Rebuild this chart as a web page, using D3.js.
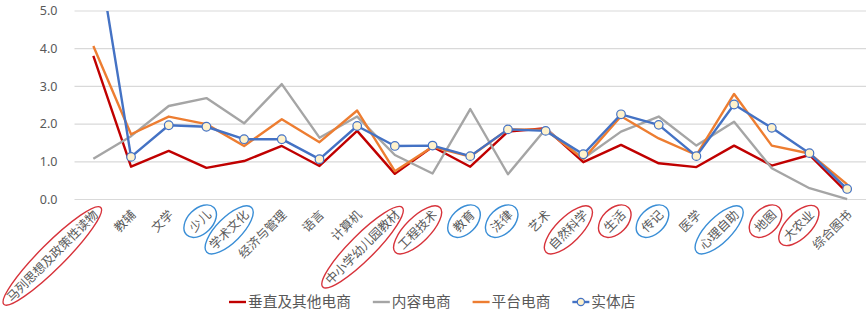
<!DOCTYPE html>
<html><head><meta charset="utf-8">
<script src="https://cdn.jsdelivr.net/npm/d3@7/dist/d3.min.js"></script>
<style>
html,body{margin:0;padding:0;background:#fff;}
svg{display:block;}
text{font-family:"Noto Sans CJK SC","Noto Sans",sans-serif;fill:#595959;}
</style></head>
<body>
<svg id="chart" width="866" height="320"></svg>
<script>
const categories = ["马列思想及政策性读物","教辅","文学","少儿","学术文化","经济与管理","语言","计算机","中小学幼儿园教材","工程技术","教育","法律","艺术","自然科学","生活","传记","医学","心理自助","地图","大农业","综合图书"];
const seriesNames = ["垂直及其他电商","内容电商","平台电商","实体店"];
const verticalEcom = [3.81,0.87,1.29,0.84,1.02,1.42,0.89,1.82,0.68,1.40,0.87,1.80,1.89,0.99,1.45,0.96,0.86,1.43,0.90,1.18,0.18];
const contentEcom  = [1.08,1.68,2.48,2.69,2.02,3.06,1.64,2.20,1.18,0.69,2.40,0.67,1.87,1.09,1.80,2.20,1.43,2.06,0.83,0.30,0.01];
const platformEcom = [4.07,1.73,2.20,2.00,1.42,2.13,1.52,2.36,0.75,1.40,1.14,1.86,1.85,1.07,2.21,1.62,1.18,2.80,1.43,1.22,0.40];
const physicalStore = [7.3,1.13,1.97,1.93,1.60,1.60,1.07,1.95,1.42,1.43,1.15,1.86,1.82,1.20,2.26,1.98,1.15,2.52,1.90,1.23,0.28];
const yTicks = [0,1,2,3,4,5];
const redCircled = ["马列思想及政策性读物","中小学幼儿园教材","工程技术","自然科学","生活","地图","大农业"];
const blueCircled = ["少儿","学术文化","教育","法律","传记","心理自助"];

const colors = ["#C00000","#A5A5A5","#ED7D31","#4472C4"];
const seriesValues = [verticalEcom, contentEcom, platformEcom, physicalStore];

const svg = d3.select("#chart");
const pLeft = 74.5, pRight = 866, pTop = 11, pBottom = 199.5;

const x = d3.scalePoint().domain(categories).range([pLeft, pRight]).padding(0.5);
const y = d3.scaleLinear().domain([0,5]).range([pBottom, pTop]);

// gridlines
svg.append("g").selectAll("line").data(yTicks).join("line")
  .attr("x1", pLeft).attr("x2", pRight)
  .attr("y1", d => y(d)).attr("y2", d => y(d))
  .attr("stroke", "#D9D9D9").attr("stroke-width", 1.2);

// y labels
svg.append("g").selectAll("text").data(yTicks).join("text")
  .attr("x", 57.5).attr("y", d => y(d)).attr("dy", "0.35em")
  .attr("text-anchor", "end")
  .style("font-family", "'Noto Sans',sans-serif")
  .style("font-size", "12.5px")
  .text(d => d3.format(".1f")(d));

// x labels with annotation ellipses
const labG = svg.append("g").selectAll("g").data(categories).join("g")
  .attr("transform", d => `translate(${x(d)+5.5},215.5) rotate(-45)`);
labG.append("text")
  .attr("text-anchor", "end")
  .style("font-size", "12.3px")
  .text(d => d);
labG.each(function(d){
  const g = d3.select(this);
  const isRed = redCircled.includes(d), isBlue = blueCircled.includes(d);
  if (!isRed && !isBlue) return;
  const L = g.select("text").node().getComputedTextLength();
  g.append("ellipse")
    .attr("cx", -L/2).attr("cy", -4.3)
    .attr("rx", L/2 + 7).attr("ry", 12.5)
    .attr("fill", "none")
    .attr("stroke", isRed ? "#D7333B" : "#3A8ED6")
    .attr("stroke-width", 1.4);
});

// clip
svg.append("clipPath").attr("id","plotclip").append("rect")
  .attr("x", 0).attr("y", pTop).attr("width", 866).attr("height", 300);

const line = d3.line().x((d,i) => x(categories[i])).y(d => y(d));
const plot = svg.append("g").attr("clip-path","url(#plotclip)");
seriesValues.forEach((vals, si) => {
  plot.append("path").datum(vals)
    .attr("d", line).attr("fill","none")
    .attr("stroke", colors[si]).attr("stroke-width", 2.4)
    .attr("stroke-linejoin","round");
});
plot.append("g").selectAll("circle").data(physicalStore).join("circle")
  .attr("cx", (d,i) => x(categories[i])).attr("cy", d => y(d))
  .attr("r", 4.3).attr("fill", "#FFF2CC")
  .attr("stroke", "#4472C4").attr("stroke-width", 1.2);

// legend
const leg = svg.append("g");
let lx = 229;
const ly = 302;
seriesNames.forEach((name, i) => {
  leg.append("line").attr("x1", lx).attr("x2", lx+17).attr("y1", ly).attr("y2", ly)
    .attr("stroke", colors[i]).attr("stroke-width", 2.4);
  if (i === 3) {
    leg.append("circle").attr("cx", lx+8.5).attr("cy", ly).attr("r", 3.6)
      .attr("fill","#FFF2CC").attr("stroke","#4472C4").attr("stroke-width",1.2);
  }
  const t = leg.append("text").attr("x", lx+19).attr("y", ly).attr("dy","0.36em")
    .style("font-size","14.7px").text(name);
  lx += 19 + t.node().getComputedTextLength() + 22;
});
</script>
</body></html>
